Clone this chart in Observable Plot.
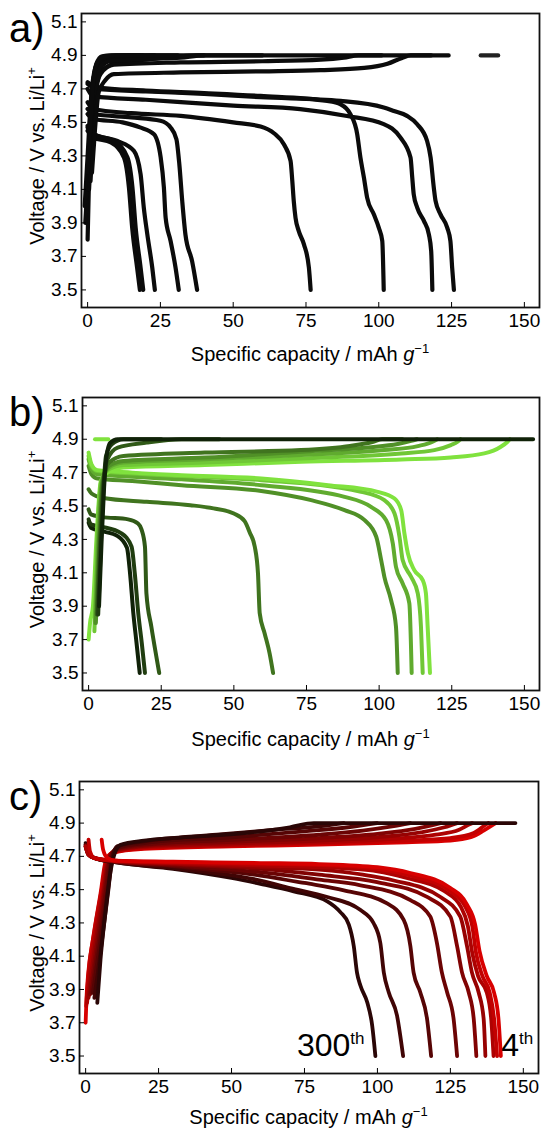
<!DOCTYPE html>
<html>
<head>
<meta charset="utf-8">
<script src="https://cdn.jsdelivr.net/npm/d3@7"></script>
<script src="https://cdn.jsdelivr.net/npm/@observablehq/plot@0.6"></script>
<style>
  body { margin: 0; background: #fff; }
  #chart svg { display: block; }
</style>
</head>
<body>
<div id="chart"></div>
<script>
// Shared tick values (capacity in mAh/g, voltage in V vs. Li/Li+)
const xTicks = [0, 25, 50, 75, 100, 125, 150];
const yTicks = [3.5, 3.7, 3.9, 4.1, 4.3, 4.5, 4.7, 4.9, 5.1];

// ---- Panel a: charge / discharge curves, [capacity, voltage] ----
const aCharge = [
  [[0,3.80],[0.4,4.1],[1,4.45],[1.8,4.7],[3,4.85],[5,4.895],[8,4.9],[18,4.9]],
  [[-0.8,3.9],[0,4.15],[0.8,4.5],[1.8,4.75],[3.5,4.86],[7,4.895],[12,4.9],[19,4.9]],
  [[-1,4.0],[0,4.3],[1,4.6],[2.5,4.8],[5,4.87],[10,4.895],[15,4.9],[23,4.9]],
  [[-0.5,4.05],[0.5,4.35],[1.8,4.65],[3.5,4.8],[7,4.865],[14,4.89],[22,4.9],[31,4.9]],
  [[0,4.1],[1,4.4],[2.5,4.68],[4.5,4.8],[9,4.85],[20,4.875],[30,4.89],[37,4.9],[40,4.9]],
  [[0.5,4.1],[1.5,4.45],[2.5,4.7],[4,4.82],[7,4.864],[20.5,4.878],[31.9,4.887],[40,4.9],[60,4.9]],
  [[1,4.15],[2,4.45],[3,4.7],[4.5,4.79],[9,4.844],[31.9,4.858],[60,4.865],[80,4.875],[88,4.887],[93,4.9],[101,4.9]],
  [[1.5,4.2],[2.5,4.45],[3.8,4.68],[6,4.75],[9,4.788],[31.9,4.798],[60,4.805],[80,4.812],[95,4.825],[103,4.85],[108,4.885],[111,4.9],[118,4.9]],
  [[0,4.2],[1,4.5],[2,4.75],[3.5,4.86],[6,4.895],[10,4.9],[124,4.9]]
];
const aHold = [[135,4.9],[141,4.9]];
const aDischarge = [
  [[0,4.73],[3,4.70],[20,4.685],[40,4.67],[59.4,4.65],[86.9,4.628],[101.7,4.589],[105.2,4.568],[109.7,4.539],[113.2,4.489],[116.6,4.389],[117.8,4.29],[118.9,4.11],[119.5,4.031],[121.2,3.951],[123.5,3.872],[124.6,3.792],[125.2,3.633],[125.8,3.5]],
  [[0,4.70],[2,4.655],[20,4.635],[50,4.60],[73,4.579],[89.1,4.538],[101.7,4.49],[107.4,4.41],[110.9,4.29],[111.5,4.17],[112,4.071],[113.2,3.991],[115.5,3.912],[117.2,3.832],[118,3.732],[118.4,3.5]],
  [[0,4.74],[3,4.71],[20,4.69],[40,4.675],[59.4,4.658],[82.3,4.628],[86.9,4.608],[90.3,4.548],[92.6,4.429],[93.7,4.29],[94.9,4.17],[96,4.051],[98.3,3.951],[100,3.872],[101.2,3.792],[101.7,3.5]],
  [[0,4.62],[2,4.58],[15,4.555],[32,4.539],[50,4.50],[59.4,4.475],[64,4.435],[67.4,4.369],[69.7,4.27],[70.3,4.15],[70.8,4.031],[71.4,3.931],[72.5,3.852],[74.3,3.772],[76,3.633],[76.6,3.5]],
  [[0,4.58],[2,4.55],[15,4.53],[25,4.51],[28.5,4.47],[30.5,4.40],[31.5,4.25],[32.5,4.03],[33.6,3.83],[35.9,3.67],[37.6,3.5]],
  [[0,4.55],[2,4.52],[12,4.50],[18,4.47],[22.8,4.429],[25.1,4.29],[26.2,4.11],[26.8,3.931],[28.5,3.792],[30.2,3.633],[31.3,3.5]],
  [[0,4.48],[2,4.43],[10.2,4.389],[15.9,4.33],[18.2,4.19],[19.3,3.991],[20.5,3.832],[22.2,3.633],[23.1,3.5]],
  [[0,4.45],[2,4.41],[8,4.38],[12.5,4.29],[14.2,4.11],[15.3,3.872],[17,3.633],[17.96,3.5]],
  [[0,4.47],[2,4.43],[9,4.39],[13.7,4.29],[15.4,4.11],[16.5,3.872],[18.2,3.633],[19.1,3.5]]
];

// ---- Panel b: cycles ordered dark (0) to light green (7) ----
const bCharge = [
  [[3.6,3.9],[4.5,4.3],[5.3,4.6],[6.2,4.8],[7.5,4.88],[10,4.9],[153,4.9]],
  [[3.3,3.85],[4.3,4.3],[5.1,4.6],[6,4.8],[8,4.87],[12,4.9],[25,4.9]],
  [[3,3.85],[4,4.3],[5,4.6],[6.5,4.78],[10,4.85],[20,4.88],[32,4.9],[45,4.9]],
  [[2.8,3.85],[3.8,4.3],[5,4.65],[7,4.76],[12,4.80],[40,4.82],[73,4.835],[90,4.86],[98,4.885],[101,4.9],[108,4.9]],
  [[2.5,3.8],[3.6,4.3],[4.8,4.65],[7,4.74],[12,4.77],[40,4.79],[73.2,4.825],[96.1,4.851],[106.4,4.871],[111,4.89],[113,4.9]],
  [[2.2,3.8],[3.3,4.3],[4.6,4.65],[7,4.73],[12,4.76],[40,4.78],[73.2,4.805],[101.8,4.835],[113.3,4.859],[118.4,4.885],[120,4.9]],
  [[2,3.75],[3,4.3],[4.4,4.65],[7,4.72],[12,4.745],[40,4.76],[73.2,4.785],[107.6,4.815],[119,4.835],[124.7,4.865],[127,4.885],[128,4.9]],
  [[0,3.7],[0.5,3.8],[1.5,3.9],[2.7,4.3],[4.2,4.65],[7,4.705],[12,4.73],[40,4.745],[73.2,4.765],[107.6,4.779],[124.7,4.791],[136.2,4.815],[141.9,4.855],[144.2,4.885],[145,4.9]]
];
const bHold = [[2.2,4.9],[6.8,4.9]];
const bDischarge = [
  [[0,4.40],[0.8,4.37],[4.5,4.35],[10,4.32],[13.2,4.25],[14.3,4.09],[15.4,3.857],[16.5,3.68],[17.6,3.5]],
  [[0,4.42],[0.8,4.39],[4.5,4.376],[11.3,4.336],[14.8,4.256],[15.9,4.096],[17.1,3.857],[18.3,3.68],[19.4,3.5]],
  [[0,4.48],[0.8,4.45],[4.5,4.435],[13.6,4.42],[17,4.395],[18.2,4.36],[19.4,4.256],[19.9,3.977],[21.6,3.777],[23.3,3.6],[24.3,3.5]],
  [[0,4.60],[1,4.575],[5,4.548],[20,4.525],[35,4.505],[43,4.486],[50,4.455],[53.7,4.41],[55.5,4.34],[57.2,4.256],[58.3,4.096],[58.9,3.857],[60.6,3.737],[62.3,3.618],[63.5,3.5]],
  [[0,4.74],[1,4.69],[3,4.665],[15,4.65],[32,4.625],[59.45,4.59],[76.6,4.535],[88.1,4.475],[95,4.415],[99,4.316],[100.7,4.176],[101.8,4.076],[104.1,3.937],[105.8,3.777],[106.4,3.5]],
  [[0,4.78],[1,4.72],[3,4.69],[15,4.675],[32,4.66],[59.45,4.625],[88.1,4.555],[97.2,4.495],[102.4,4.415],[104.7,4.276],[105.8,4.136],[108.1,4.036],[110.4,3.917],[111.2,3.5]],
  [[0,4.80],[1,4.74],[3,4.71],[15,4.695],[32,4.68],[59.45,4.655],[93.8,4.585],[101.8,4.535],[105.3,4.455],[107,4.316],[108.1,4.176],[111,4.076],[113.3,3.977],[114.4,3.777],[115,3.5]],
  [[0,4.82],[1,4.75],[3,4.715],[15,4.70],[32,4.685],[59.45,4.665],[82.4,4.625],[99.5,4.585],[105.3,4.545],[107.6,4.475],[108.7,4.336],[109.9,4.216],[112.1,4.116],[115,4.056],[116.1,3.977],[116.7,3.777],[117.5,3.5]]
];

// ---- Panel c: cycles ordered 4th (0, red) to 300th (8, dark) ----
const cCharge = [
  [[0,3.70],[0.3,3.85],[0.8,3.98],[2.5,4.2],[5.1,4.476],[6.9,4.674],[9,4.72],[20,4.745],[50,4.76],[80,4.77],[110,4.785],[125,4.795],[132,4.815],[136.4,4.855],[139.8,4.892],[140.5,4.9]],
  [[0.2,3.80],[1,4.0],[3,4.25],[5.5,4.5],[7.2,4.68],[9.5,4.725],[20,4.75],[50,4.765],[80,4.778],[110,4.795],[125,4.81],[133,4.84],[137.5,4.895],[138,4.9]],
  [[0.5,3.82],[1.5,4.0],[3.5,4.25],[6,4.5],[7.5,4.68],[10,4.73],[20,4.755],[50,4.77],[80,4.785],[105,4.805],[120,4.83],[128,4.86],[131.8,4.895],[132.5,4.9]],
  [[1,3.85],[2,4.0],[4,4.25],[6.3,4.5],[7.8,4.68],[10,4.735],[20,4.76],[50,4.778],[80,4.795],[100,4.815],[115,4.845],[123,4.875],[127.3,4.9]],
  [[1.5,3.87],[2.5,4.0],[4.5,4.25],[6.6,4.5],[8,4.68],[10.3,4.74],[20,4.765],[50,4.788],[80,4.81],[100,4.835],[113,4.865],[121.6,4.9]],
  [[2,3.88],[3,4.0],[5,4.25],[7,4.5],[8.3,4.68],[10.5,4.745],[20,4.772],[50,4.8],[80,4.83],[95,4.855],[105,4.88],[111.3,4.9]],
  [[2.5,3.88],[3.5,4.0],[5.5,4.25],[7.5,4.5],[8.6,4.66],[10.5,4.75],[20,4.78],[50,4.815],[75,4.85],[90,4.875],[99.9,4.9]],
  [[3,3.85],[4.2,4.0],[6,4.25],[7.8,4.5],[8.8,4.65],[10.8,4.76],[20,4.79],[45,4.83],[65,4.86],[80,4.88],[88.5,4.9]],
  [[4,3.82],[5.1,4.08],[6.9,4.38],[8.6,4.615],[10.3,4.733],[12,4.77],[20,4.795],[32.5,4.813],[55.4,4.842],[70,4.875],[78.2,4.9],[147.3,4.9]]
];
const cDischarge = [
  [[5.5,4.80],[6,4.74],[7.5,4.69],[10,4.675],[30,4.668],[60,4.66],[80,4.654],[100,4.635],[111.3,4.60],[125,4.51],[130.7,4.41],[133.5,4.29],[135,4.13],[137.5,3.98],[140,3.88],[141.5,3.72],[142.3,3.5]],
  [[1,4.80],[1.5,4.73],[3,4.69],[10,4.675],[30,4.665],[60,4.655],[80,4.648],[100,4.625],[111,4.585],[125,4.49],[130,4.40],[132.5,4.28],[133.8,4.12],[136,3.98],[138.5,3.88],[140,3.72],[141,3.5]],
  [[0,4.76],[1,4.71],[3,4.69],[10,4.675],[30,4.66],[60,4.645],[80,4.635],[100,4.61],[110,4.57],[123,4.49],[128.5,4.40],[131,4.28],[132.5,4.12],[134.5,3.98],[137.5,3.88],[139,3.72],[139.8,3.5]],
  [[0,4.76],[1,4.71],[3,4.69],[10,4.672],[30,4.655],[60,4.635],[80,4.62],[95,4.59],[105.6,4.555],[121.6,4.456],[128.4,4.338],[130.7,4.16],[132.4,4.001],[134.7,3.882],[136.4,3.724],[137,3.5]],
  [[0,4.76],[1,4.71],[3,4.69],[10,4.67],[30,4.65],[59.9,4.625],[80,4.59],[99.9,4.545],[117,4.456],[125,4.338],[127.3,4.16],[129,4.001],[131.3,3.882],[133,3.724],[133.9,3.5]],
  [[0,4.76],[1,4.71],[3,4.69],[10,4.67],[30,4.645],[59.9,4.605],[80,4.56],[94.2,4.526],[111.3,4.437],[118.1,4.338],[120.4,4.179],[122.1,4.001],[123.9,3.882],[126.1,3.724],[127.3,3.5]],
  [[0,4.77],[1,4.715],[3,4.69],[10,4.668],[30,4.64],[59.9,4.585],[75,4.54],[88.5,4.496],[103.3,4.417],[109,4.318],[111.3,4.16],[112.4,4.001],[114.7,3.882],[117,3.724],[118.4,3.5]],
  [[0,4.77],[1,4.715],[3,4.69],[10,4.665],[30,4.63],[59.9,4.555],[70,4.51],[82.8,4.456],[94.2,4.377],[98.7,4.298],[101,4.179],[102.2,4.001],[103.9,3.882],[106.7,3.744],[108.8,3.5]],
  [[0,4.78],[1,4.72],[3,4.69],[10,4.665],[30,4.625],[50,4.57],[59.9,4.535],[71.3,4.49],[82.8,4.43],[87.3,4.365],[90.2,4.29],[91.9,4.16],[93,4.001],[94.2,3.922],[96.5,3.823],[98.2,3.684],[99.3,3.5]]
];
const cCycleLabels = [{text: "300", sup: "th", cap: 72.6, volt: 3.5}, {text: "4", sup: "th", cap: 142.6, volt: 3.5}];

// flatten a list of curves into rows; `order` controls drawing order
function toRows(curves, tag, order = "asc") {
  const idx = curves.map((_, i) => i);
  if (order === "desc") idx.reverse();
  return idx.flatMap(i => curves[i].map(([cap, volt]) => ({cap, volt, id: tag + i, cycle: i})));
}

const FONT = "'Liberation Sans', Arial, Helvetica, sans-serif";
const TICK_FONT = 19, TITLE_FONT = 20;

function panel({letter, height, marginBottom, marginLeft, marginRight, color, layers, xLabelY, lineWidth}) {
  const lineMarks = layers.map(l => Plot.line(l.rows, {
    x: "cap", y: "volt", z: "id",
    stroke: l.stroke ?? "cycle",
    strokeWidth: lineWidth, strokeLinecap: "round",
    curve: "monotone-x"
  }));
  const svg = Plot.plot({
    width: 542, height,
    marginTop: 13, marginBottom, marginLeft, marginRight,
    x: {domain: [-2.1, 155.2], label: null},
    y: {domain: [3.395, 5.15], label: null},
    color,
    style: {fontFamily: FONT, fontSize: TICK_FONT + "px", color: "#000", background: "#fff", overflow: "visible"},
    marks: [
      ...lineMarks,
      Plot.frame({stroke: "#111", strokeWidth: 1.8}),
      Plot.axisX(xTicks, {tickSize: -5, tickPadding: 11, fontSize: TICK_FONT, label: null}),
      Plot.axisY(yTicks, {tickSize: -5, tickPadding: 9, fontSize: TICK_FONT, tickFormat: d => d.toFixed(1), label: null})
    ]
  });
  const s = d3.select(svg);
  const top = 13, bottom = height - marginBottom;
  // panel letter
  s.append("text").attr("x", 9).attr("y", top + 29).attr("text-anchor", "start")
    .attr("font-family", FONT).attr("font-size", 40).attr("fill", "#000").text(letter);
  // y-axis title
  const yt = s.append("text")
    .attr("transform", `translate(44,${(top + bottom) / 2 - 4}) rotate(-90)`)
    .attr("text-anchor", "middle").attr("font-family", FONT).attr("font-size", TITLE_FONT).attr("fill", "#000");
  yt.append("tspan").text("Voltage / V vs. Li/Li");
  yt.append("tspan").attr("font-size", 13).attr("dy", -8).text("+");
  // x-axis title
  const xt = s.append("text")
    .attr("x", (marginLeft + 542 - marginRight) / 2).attr("y", xLabelY)
    .attr("text-anchor", "middle").attr("font-family", FONT).attr("font-size", TITLE_FONT).attr("fill", "#000");
  xt.append("tspan").text("Specific capacity / mAh ");
  xt.append("tspan").attr("font-style", "italic").text("g");
  xt.append("tspan").attr("font-size", 13).attr("dy", -8).text("\u22121");
  return svg;
}

const root = document.getElementById("chart");

root.appendChild(panel({
  letter: "a)", height: 384, marginBottom: 77, marginLeft: 81, marginRight: 3, xLabelY: 361, lineWidth: 4.2,
  layers: [
    {rows: toRows(aDischarge, "ad"), stroke: "#0b0b0b"},
    {rows: toRows(aCharge, "ac"), stroke: "#0b0b0b"},
    {rows: toRows([aHold], "ah"), stroke: "#222"}
  ]
}));

root.appendChild(panel({
  letter: "b)", height: 384, marginBottom: 78, marginLeft: 82, marginRight: 3, xLabelY: 362, lineWidth: 4,
  color: {type: "linear", domain: [0, 7], range: ["#102208", "#80e23e"]},
  layers: [
    {rows: toRows(bDischarge, "bd")},
    {rows: toRows(bCharge, "bc", "desc")},
    {rows: toRows([bHold], "bh"), stroke: "#80e23e"}
  ]
}));

const cSvg = panel({
  letter: "c)", height: 364, marginBottom: 59, marginLeft: 79, marginRight: 4, xLabelY: 356, lineWidth: 3.8,
  color: {type: "linear", domain: [0, 8], range: ["#d80000", "#2a0606"]},
  layers: [
    {rows: toRows(cCharge, "cc")},
    {rows: toRows(cDischarge, "cd", "desc")}
  ]
});
root.appendChild(cSvg);

// cycle number annotations in panel c
{
  const sx = cSvg.scale("x"), sy = cSvg.scale("y");
  const s = d3.select(cSvg);
  for (const d of cCycleLabels) {
    const t = s.append("text").attr("x", sx.apply(d.cap)).attr("y", sy.apply(d.volt))
      .attr("text-anchor", "start")
      .attr("font-family", FONT).attr("font-size", 32).attr("fill", "#000");
    t.append("tspan").text(d.text);
    t.append("tspan").attr("font-size", 17).attr("dy", -12).text(d.sup);
  }
}
</script>
</body>
</html>
